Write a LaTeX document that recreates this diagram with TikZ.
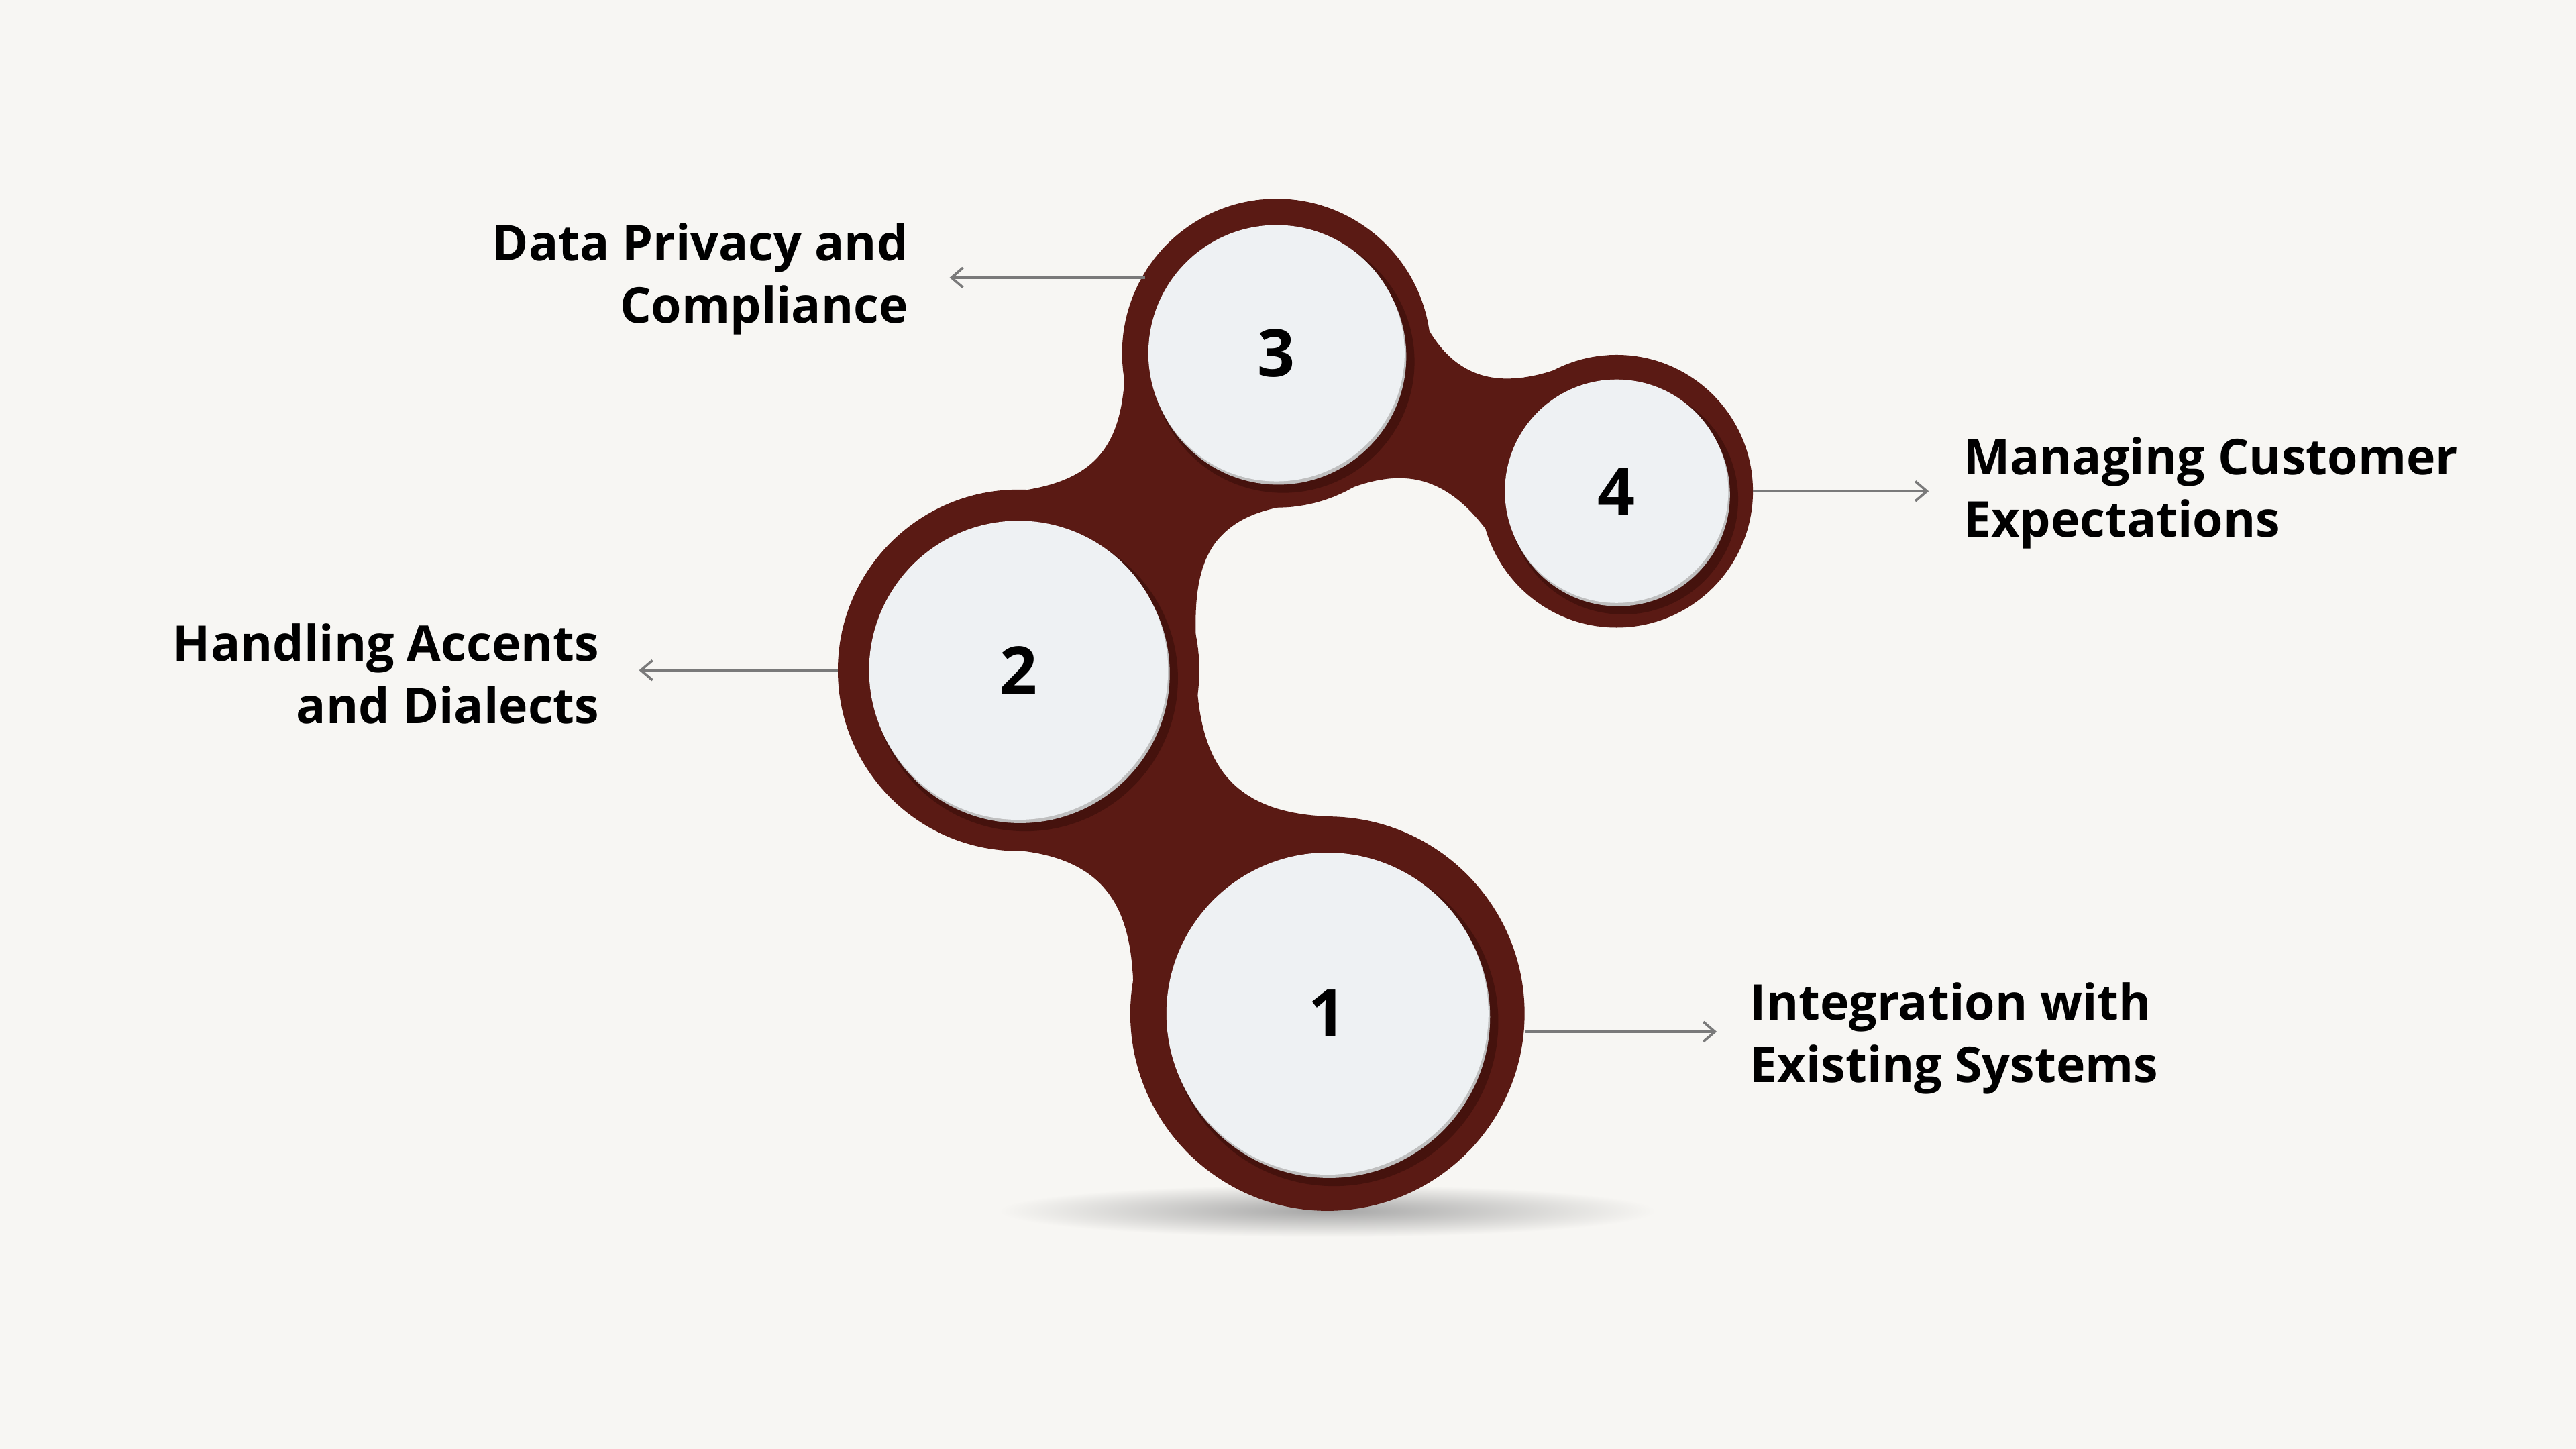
\documentclass[tikz,border=0pt]{standalone}
\usepackage{fontspec}
\setmainfont{Open Sans}
\usetikzlibrary{arrows.meta,shadings}
\definecolor{bg}{HTML}{F7F6F3}
\definecolor{blob}{HTML}{5A1A14}
\definecolor{blobd}{HTML}{45120D}
\definecolor{disc}{HTML}{EEF1F3}
\definecolor{arr}{HTML}{7A7A7A}
\tikzset{
  lbl/.style={font=\fontsize{30}{38}\selectfont\bfseries, inner sep=0pt, text=black},
  num/.style={font=\fontsize{40}{40}\selectfont\bfseries, inner sep=0pt},
  conn/.style={draw=arr, line width=1.5pt, -{Straight Barb[length=7pt,width=12pt]}},
}
\begin{document}
\begin{tikzpicture}[x=1pt,y=-1pt]
\fill[bg] (0,0) rectangle (1568,882);
\useasboundingbox (0,0) rectangle (1568,882);
% shadow
\shade[inner color=black!35, outer color=bg] (808,737) ellipse (200 and 16);
% blob
\fill[blob] (610,517) .. controls (680,520) and (690,560) .. (690,610) -- (808,617) -- (810,497) .. controls (745,495) and (728,460) .. (728,400) -- (620,408) -- cycle;
\fill[blob] (610,300) .. controls (670,295) and (685,270) .. (685,215) -- (777,215) -- (862,185) .. controls (880,230) and (910,240) .. (955,222) -- (984,299) -- (910,330) .. controls (880,285) and (850,285) .. (815,300) .. controls (790,310) and (760,305) .. (740,330) .. controls (725,350) and (728,380) .. (728,400) -- (620,408) -- cycle;
\fill[blob] (808,617) circle (120);
\fill[blob] (620,408) circle (110);
\fill[blob] (777,215) circle (94);
\fill[blob] (984,299) circle (83);
% discs
\foreach \n/\x/\y/\r in {c1/808/617/98, c2/620/408/91, c3/777/215/78, c4/984/299/68}{
  \fill[blobd] (\x+4,\y+5) circle (\r+2);
  \fill[black!25] (\x+1,\y+2) circle (\r);
  \fill[disc] (\x,\y) circle (\r);
}
\node[num] (n1) at (808,617) {1};
\node[num] (n2) at (620,408) {2};
\node[num] (n3) at (777,215) {3};
\node[num] (n4) at (984,299) {4};
% connector endpoints
\coordinate (a1) at (928,628); \coordinate (b1) at (1045,628);
\coordinate (a2) at (510,408); \coordinate (b2) at (389,408);
\coordinate (a3) at (697,169); \coordinate (b3) at (578,169);
\coordinate (a4) at (1067,299); \coordinate (b4) at (1174,299);
\draw[conn] (a1) -- (b1);
\draw[conn] (a2) -- (b2);
\draw[conn] (a3) -- (b3);
\draw[conn] (a4) -- (b4);
\node[lbl, anchor=west, align=left] (t1) at (1065,632) {Integration with\\Existing Systems};
\node[lbl, anchor=east, align=right] (t2) at (365,410) {Handling Accents\\and Dialects};
\node[lbl, anchor=east, align=right] (t3) at (553,170) {Data Privacy and\\Compliance};
\node[lbl, anchor=west, align=left] (t4) at (1195,300) {Managing Customer\\Expectations};
\end{tikzpicture}
\end{document}
